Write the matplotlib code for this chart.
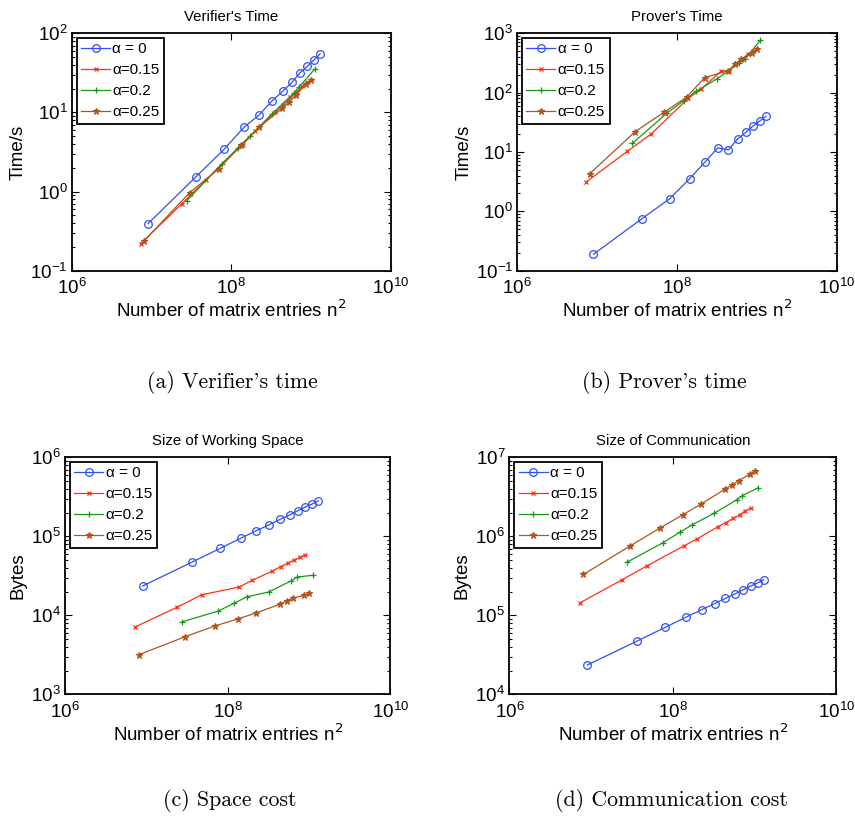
import numpy as np
import matplotlib
matplotlib.use('Agg')
import matplotlib.pyplot as plt
from matplotlib.ticker import FixedLocator, LogLocator, NullLocator

plt.rcParams['font.family'] = ['Liberation Sans', 'DejaVu Sans']

# matrix sizes (x = n^2) for each alpha
n_a0 = [3000, 6000, 9000, 12000, 15000, 18000, 21000, 24000, 27000, 30000, 33000, 36000]
x_a0 = np.array(n_a0, dtype=float) ** 2
x_a15 = [7.24e6, 2.40e7, 4.79e7, 1.38e8, 2.00e8, 3.55e8, 4.47e8, 5.50e8, 6.61e8, 7.76e8, 9.02e8]
x_a20 = [2.77e7, 7.60e7, 1.21e8, 1.73e8, 3.19e8, 6.05e8, 7.11e8, 1.11e9]
x_a25 = [8.07e6, 2.99e7, 6.93e7, 1.32e8, 2.22e8, 4.38e8, 5.36e8, 6.41e8, 8.75e8, 1.01e9]

# verifier's time (s)
ver_a0 = [0.393, 1.54, 3.42, 6.49, 9.35, 14.0, 18.5, 24.0, 31.8, 38.3, 46.0, 54.8]
ver_a15 = [0.219, 0.703, 1.40, 3.89, 5.78, 10.0, 12.3, 15.5, 18.2, 21.4, 24.5]
ver_a20 = [0.767, 2.25, 3.56, 5.08, 9.48, 17.5, 21.1, 35.2]
ver_a25 = [0.239, 0.968, 1.93, 3.88, 6.49, 11.3, 13.7, 16.6, 22.6, 25.7]

# prover's time (s)
pro_a0 = [0.189, 0.743, 1.63, 3.55, 6.79, 11.7, 10.9, 16.6, 21.5, 27.7, 33.3, 39.9]
pro_a15 = [3.1, 10.3, 20.3, 80, 114, 229, 234, 313, 373, 448, 509]
pro_a20 = [14, 46, 73, 105, 172, 313, 365, 771]
pro_a25 = [4.3, 22, 47, 84, 179, 234, 300, 365, 460, 544]

# working space (bytes)
spc_a0 = [23500, 46900, 70500, 94400, 117800, 140300, 164100, 186200, 210900, 235000, 256400, 282500]
spc_a15 = [7110, 12700, 18200, 22800, 27700, 36400, 41200, 45900, 50100, 54200, 58500]
spc_a20 = [8300, 11300, 14300, 17200, 19700, 27400, 30500, 32100]
spc_a25 = [3170, 5360, 7330, 8970, 10700, 13800, 15200, 16600, 17900, 19100]

# communication (bytes)
com_a0 = [23500, 46900, 70500, 94400, 117800, 140300, 164100, 186200, 210900, 235000, 256400, 282500]
com_a15 = [1.43e5, 2.82e5, 4.21e5, 7.60e5, 9.33e5, 1.32e6, 1.49e6, 1.69e6, 1.87e6, 2.11e6, 2.26e6]
com_a20 = [4.73e5, 8.30e5, 1.12e6, 1.40e6, 1.95e6, 2.90e6, 3.27e6, 4.12e6]
com_a25 = [3.30e5, 7.53e5, 1.27e6, 1.87e6, 2.56e6, 3.97e6, 4.50e6, 5.06e6, 6.10e6, 6.71e6]

labels = ['\u03b1 = 0', '\u03b1=0.15', '\u03b1=0.2', '\u03b1=0.25']
colors = ['#2f4ff5', '#ff2f14', '#169a16', '#b0541c']
markers = ['o', 'x', '+', '*']
msizes = [5.5, 3.5, 5, 4.5]

fig = plt.figure(figsize=(8.55, 8.24), dpi=100)

def panel(rect, title, ylabel, ys, ylim, caption, cap_xy, ylab_x):
    ax = fig.add_axes(rect)
    xs = [x_a0, x_a15, x_a20, x_a25]
    for x, y, c, m, ms, lab in zip(xs, ys, colors, markers, msizes, labels):
        ax.plot(x, y, color=c, marker=m, markersize=ms, linewidth=0.9,
                markerfacecolor='none' if m == 'o' else c, markeredgewidth=0.9, label=lab)
    ax.set_xscale('log')
    ax.set_yscale('log')
    ax.set_xlim(1e6, 1e10)
    ax.set_ylim(*ylim)
    ax.xaxis.set_major_locator(FixedLocator([1e6, 1e8, 1e10]))
    ax.xaxis.set_minor_locator(NullLocator())
    ax.yaxis.set_major_locator(LogLocator(base=10, numticks=10))
    ax.yaxis.set_minor_locator(LogLocator(base=10, subs=np.arange(2, 10), numticks=10))
    ax.tick_params(which='both', direction='in', top=True, right=True, labelsize=13.5, width=0.8)
    ax.tick_params(which='major', length=5, pad=3)
    ax.tick_params(axis='x', which='major', pad=5.5)
    ax.tick_params(which='minor', length=2.5)
    for s in ax.spines.values():
        s.set_linewidth(1.3)
    ax.set_title(title, fontsize=10.8, pad=9)
    ax.set_xlabel('Number of matrix entries n$^2$', fontsize=13.5)
    ax.xaxis.set_label_coords(0.5, -0.122)
    ax.set_ylabel(ylabel, fontsize=13.5)
    ax.yaxis.set_label_coords(ylab_x, 0.5)
    leg = ax.legend(loc='upper left', fontsize=11, handlelength=1.9, handletextpad=0.15,
                    labelspacing=0.45, borderpad=0.3, borderaxespad=0.3, fancybox=False,
                    framealpha=1, edgecolor='black')
    leg.get_frame().set_linewidth(1.3)
    fig.text(cap_xy[0] / 855, 1 - cap_xy[1] / 824, caption, ha='center', va='center',
             family='cmr10', fontsize=15.7)
    return ax

panel([0.0842, 0.6715, 0.3728, 0.2881], "Verifier's Time", 'Time/s',
      [ver_a0, ver_a15, ver_a20, ver_a25], (1e-1, 1e2), "(a) Verifier's time", (232, 382), -0.141)
panel([0.6050, 0.6715, 0.3736, 0.2881], "Prover's Time", 'Time/s',
      [pro_a0, pro_a15, pro_a20, pro_a25], (1e-1, 1e3), "(b) Prover's time", (664, 382), -0.141)
panel([0.0761, 0.1574, 0.3805, 0.2876], 'Size of Working Space', 'Bytes',
      [spc_a0, spc_a15, spc_a20, spc_a25], (1e3, 1e6), '(c) Space cost', (230, 800), -0.118)
panel([0.5958, 0.1574, 0.3822, 0.2876], 'Size of Communication', 'Bytes',
      [com_a0, com_a15, com_a20, com_a25], (1e4, 1e7), '(d) Communication cost', (671, 800), -0.118)

fig.savefig('out.png', dpi=100)
